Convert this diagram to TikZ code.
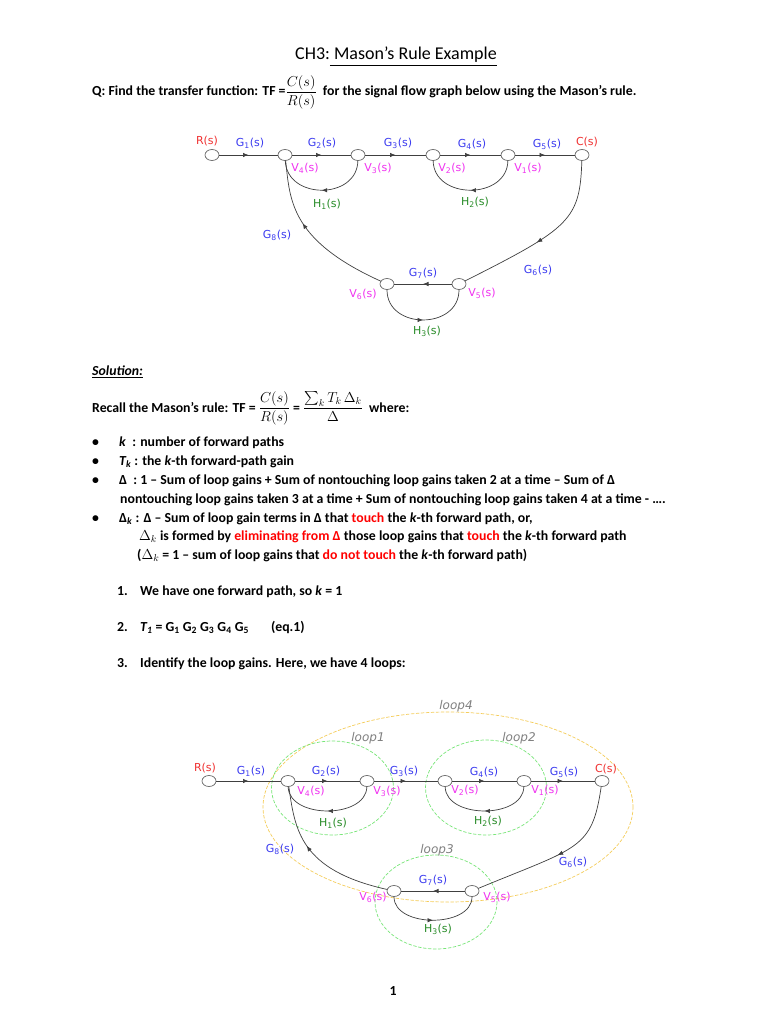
\documentclass[tikz,border=0pt]{standalone}
\usepackage{amsmath,amssymb}
\usepackage{fontspec}
\setmainfont{Carlito}
\newfontfamily\graphfont{DejaVu Sans}
\usepackage{tikz}
\usetikzlibrary{arrows.meta,shapes.geometric,decorations.markings}
\usepackage{xcolor}
\definecolor{gainblue}{RGB}{60,60,240}
\definecolor{sigred}{RGB}{240,50,50}
\definecolor{nodepink}{RGB}{240,50,240}
\definecolor{fbgreen}{RGB}{40,140,40}
\definecolor{loopgreen}{RGB}{120,230,120}
\definecolor{loopgold}{RGB}{245,205,90}
\definecolor{hotred}{RGB}{255,0,0}

\begin{document}
\begin{tikzpicture}[x=1pt,y=-1pt,line cap=round,
  sig/.style={ellipse,draw=black!60,fill=white,line width=0.7pt,minimum width=14pt,minimum height=11pt,inner sep=0pt},
  branch/.style={draw=black!75,line width=0.7pt},
  midarrow/.style={postaction={decorate,decoration={markings,mark=at position #1 with {\arrow{Latex[length=5.5pt,width=4.5pt]}}}}},
  midarrow/.default=0.5,
  lab/.style={inner sep=0pt,font=\graphfont\fontsize{11}{13}\selectfont},
  gain/.style={lab,text=gainblue},
  var/.style={lab,text=nodepink},
  fb/.style={lab,text=fbgreen},
  io/.style={lab,text=sigred},
  loopname/.style={inner sep=0pt,text=black!50,font=\graphfont\fontsize{12}{14}\selectfont\itshape},
  loopring/.style={loopgreen,line width=0.7pt,dash pattern=on 3pt off 2pt},
  txt/.style={anchor=base west,inner sep=0pt,font=\fontsize{13.8}{16}\selectfont\bfseries},
]
\useasboundingbox[fill=white] (0,0) rectangle (768,1024);

% heading and question
\node[anchor=base,inner sep=0pt,font=\fontsize{18}{21}\selectfont] (title) at (396,60) {CH3:\underline{\ Mason’s Rule Example}};
\node[txt] (question) at (92,96) {Q: Find the transfer function: TF =$\dfrac{C(s)}{R(s)}$\ \ for the signal flow graph below using the Mason’s rule.};

% first graph
\node[sig] (aR) at (212,155) {};
\node[sig] (aV4) at (285,155) {};
\node[sig] (aV3) at (358,155) {};
\node[sig] (aV2) at (433,155) {};
\node[sig] (aV1) at (508,155) {};
\node[sig] (aC) at (582,155) {};
\node[sig] (aV6) at (387,284) {};
\node[sig] (aV5) at (459,284) {};
\draw[branch,midarrow] (aR) -- (aV4);
\draw[branch,midarrow] (aV4) -- (aV3);
\draw[branch,midarrow] (aV3) -- (aV2);
\draw[branch,midarrow] (aV2) -- (aV1);
\draw[branch,midarrow] (aV1) -- (aC);
\draw[branch,midarrow] (aV3) .. controls (357,200) and (287,200) .. (aV4);
\draw[branch,midarrow] (aV1) .. controls (507,200) and (434,200) .. (aV2);
\draw[branch,midarrow] (aV5) -- (aV6);
\draw[branch,midarrow] (aV6) .. controls (387,330) and (459,330) .. (aV5);
\draw[branch,midarrow=0.6] (aV6) .. controls (290,240) and (290,200) .. (aV4);
\draw[branch,midarrow=0.55] (aC) .. controls (580,220) and (570,228) .. (aV5);
\node[io] at (207,141) {R(s)};
\node[io] at (587,142) {C(s)};
\node[gain] at (250,143) {G\textsubscript{1}(s)};
\node[gain] at (322,143) {G\textsubscript{2}(s)};
\node[gain] at (398,143) {G\textsubscript{3}(s)};
\node[gain] at (472,144) {G\textsubscript{4}(s)};
\node[gain] at (547,144) {G\textsubscript{5}(s)};
\node[gain] at (538,270) {G\textsubscript{6}(s)};
\node[gain] at (423,273) {G\textsubscript{7}(s)};
\node[gain] at (277,235) {G\textsubscript{8}(s)};
\node[var] at (305,168) {V\textsubscript{4}(s)};
\node[var] at (378,168) {V\textsubscript{3}(s)};
\node[var] at (452,168) {V\textsubscript{2}(s)};
\node[var] at (528,168) {V\textsubscript{1}(s)};
\node[var] at (363,294) {V\textsubscript{6}(s)};
\node[var] at (482,293) {V\textsubscript{5}(s)};
\node[fb] at (327,204) {H\textsubscript{1}(s)};
\node[fb] at (475,202) {H\textsubscript{2}(s)};
\node[fb] at (427,331) {H\textsubscript{3}(s)};

% solution text
\node[txt] (solution) at (92,375) {\underline{\textit{Solution:}}};
\node[txt] (recall) at (92,412) {Recall the Mason’s rule: TF = $\dfrac{C(s)}{R(s)}$ = $\dfrac{\sum_k T_k\,\Delta_k}{\Delta}$\ \ where:};
\foreach \yy in {446,465,484,522}
  \node[txt] at (92,\yy) {•};
\node[txt] at (119,446) {\textit{k}\ \ : number of forward paths};
\node[txt] at (119,465) {\textit{T\textsubscript{k}} : the \textit{k}-th forward-path gain};
\node[txt] at (119,484) {Δ\ \ : 1 – Sum of loop gains + Sum of nontouching loop gains taken 2 at a time – Sum of Δ};
\node[txt] at (120,503) {nontouching loop gains taken 3 at a time + Sum of nontouching loop gains taken 4 at a time - ….};
\node[txt] at (119,522) {Δ\textsubscript{\textit{k}} : Δ – Sum of loop gain terms in Δ that \textcolor{hotred}{touch} the \textit{k}-th forward path, or,};
\node[txt] at (139,540) {$\Delta_k$ is formed by \textcolor{hotred}{eliminating from Δ} those loop gains that \textcolor{hotred}{touch} the \textit{k}-th forward path};
\node[txt] at (137,559) {($\Delta_k$ = 1 – sum of loop gains that \textcolor{hotred}{do not touch} the \textit{k}-th forward path)};
\node[txt] at (117,595) {1.};
\node[txt] at (140,595) {We have one forward path, so \textit{k} = 1};
\node[txt] at (117,631) {2.};
\node[txt] at (140,631) {\textit{T\textsubscript{1}} = G\textsubscript{1} G\textsubscript{2} G\textsubscript{3} G\textsubscript{4} G\textsubscript{5}\hspace{1.6em}(eq.1)};
\node[txt] at (117,667) {3.};
\node[txt] at (140,667) {Identify the loop gains. Here, we have 4 loops:};

% second graph with the loops marked
\draw[loopring,loopgold] (448,807) ellipse [x radius=185,y radius=95];
\draw[loopring] (332.5,788) ellipse [x radius=61,y radius=47];
\draw[loopring] (486,787.5) ellipse [x radius=60.5,y radius=47.5];
\draw[loopring] (436,902) ellipse [x radius=61,y radius=47];
\node[loopname] at (456,706) {loop4};
\node[loopname] at (368,738) {loop1};
\node[loopname] at (519,738) {loop2};
\node[loopname] at (437,850) {loop3};
\node[sig] (bR) at (209,781) {};
\node[sig] (bV4) at (288,781) {};
\node[sig] (bV3) at (367,781) {};
\node[sig] (bV2) at (445,781) {};
\node[sig] (bV1) at (524,781) {};
\node[sig] (bC) at (602,781) {};
\node[sig] (bV6) at (394,891) {};
\node[sig] (bV5) at (472,891) {};
\draw[branch,midarrow] (bR) -- (bV4);
\draw[branch,midarrow] (bV4) -- (bV3);
\draw[branch,midarrow] (bV3) -- (bV2);
\draw[branch,midarrow] (bV2) -- (bV1);
\draw[branch,midarrow] (bV1) -- (bC);
\draw[branch,midarrow] (bV3) .. controls (366,819) and (289,819) .. (bV4);
\draw[branch,midarrow] (bV1) .. controls (523,819) and (446,819) .. (bV2);
\draw[branch,midarrow] (bV5) -- (bV6);
\draw[branch,midarrow] (bV6) .. controls (394,928) and (472,928) .. (bV5);
\draw[branch,midarrow=0.6] (bV6) .. controls (300,870) and (295,830) .. (bV4);
\draw[branch,midarrow] (bC) .. controls (592,850) and (578,847) .. (bV5);
\node[io] at (205,768) {R(s)};
\node[io] at (606,769) {C(s)};
\node[gain] at (251,771) {G\textsubscript{1}(s)};
\node[gain] at (326,771) {G\textsubscript{2}(s)};
\node[gain] at (404,771) {G\textsubscript{3}(s)};
\node[gain] at (484,772) {G\textsubscript{4}(s)};
\node[gain] at (564,772) {G\textsubscript{5}(s)};
\node[gain] at (573,862) {G\textsubscript{6}(s)};
\node[gain] at (433,880) {G\textsubscript{7}(s)};
\node[gain] at (280,849) {G\textsubscript{8}(s)};
\node[var] at (311,791) {V\textsubscript{4}(s)};
\node[var] at (387,791) {V\textsubscript{3}(s)};
\node[var] at (465,790) {V\textsubscript{2}(s)};
\node[var] at (545,790) {V\textsubscript{1}(s)};
\node[var] at (373,897) {V\textsubscript{6}(s)};
\node[var] at (497,897) {V\textsubscript{5}(s)};
\node[fb] at (333,823) {H\textsubscript{1}(s)};
\node[fb] at (488,821) {H\textsubscript{2}(s)};
\node[fb] at (438,929) {H\textsubscript{3}(s)};

% page number
\node[txt,anchor=base] (page) at (393,995) {1};
\end{tikzpicture}
\end{document}
